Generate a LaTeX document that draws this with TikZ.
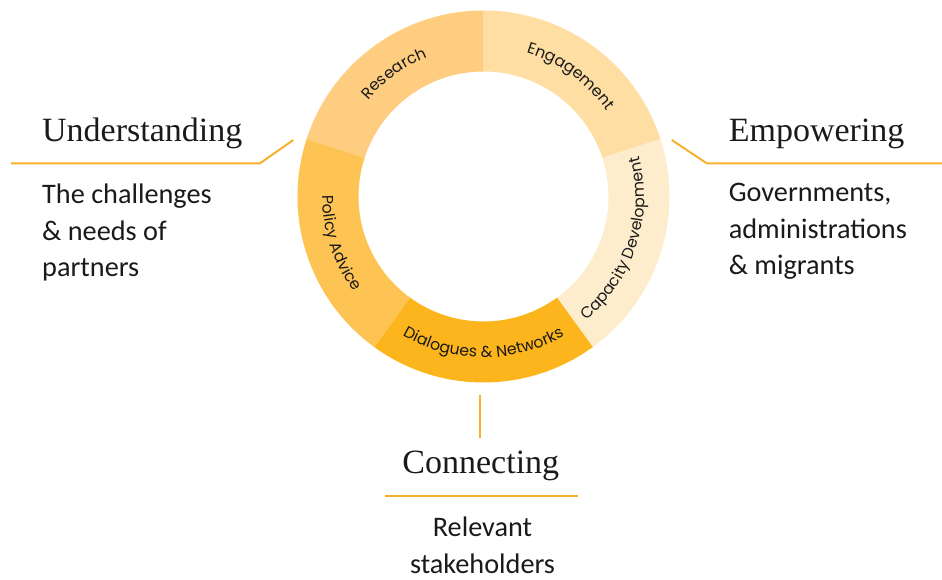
\documentclass[tikz,border=0pt]{standalone}
\usepackage{fontspec}
\setmainfont{Carlito}
\newfontfamily\headfont{Liberation Serif}
\newfontfamily\ringfont{Poppins}
\usetikzlibrary{decorations.text}

\definecolor{segResearch}{HTML}{FECD80}
\definecolor{segEngage}{HTML}{FEDEA2}
\definecolor{segCapacity}{HTML}{FEEDCC}
\definecolor{segDialogue}{HTML}{FCB51C}
\definecolor{segPolicy}{HTML}{FDC453}
\definecolor{accent}{HTML}{F7B02E}
\definecolor{ink}{HTML}{1A1A1A}

\newcommand\ringtxt{\ringfont\fontsize{11.8}{13}\selectfont\color{ink}}

\tikzset{every picture/.style={line width=0.75pt}}
\tikzset{
  heading/.style={font=\headfont\fontsize{25.5}{30}\selectfont, inner sep=0pt, text=ink},
  bodytext/.style={font=\fontsize{21.2}{27.4}\selectfont, inner sep=0pt, align=left, text=ink},
  leader/.style={draw=accent, line width=1.5pt},
  ringtext/.style={decorate, decoration={text along path, text align=center, text={|\ringtxt|#1}}}
}

\begin{document}
\begin{tikzpicture}[x=0.75pt,y=0.75pt]
\useasboundingbox (0,0) rectangle (942,579);
\coordinate (c) at (483.5,382.5);

%Shape: Arc [Research]
\fill[segResearch, shift={(c)}] (162:186) arc[start angle=162,end angle=90,radius=186] -- (90:125) arc[start angle=90,end angle=162,radius=125] -- cycle;
%Shape: Arc [Engagement]
\fill[segEngage, shift={(c)}] (90:186) arc[start angle=90,end angle=18,radius=186] -- (18:125) arc[start angle=18,end angle=90,radius=125] -- cycle;
%Shape: Arc [Capacity Development]
\fill[segCapacity, shift={(c)}] (18:186) arc[start angle=18,end angle=-54,radius=186] -- (-54:125) arc[start angle=-54,end angle=18,radius=125] -- cycle;
%Shape: Arc [Dialogues]
\fill[segDialogue, shift={(c)}] (-54:186) arc[start angle=-54,end angle=-126,radius=186] -- (-126:125) arc[start angle=-126,end angle=-54,radius=125] -- cycle;
%Shape: Arc [Policy Advice]
\fill[segPolicy, shift={(c)}] (-126:186) arc[start angle=-126,end angle=-198,radius=186] -- (-198:125) arc[start angle=-198,end angle=-126,radius=125] -- cycle;

% Ring labels
\path[ringtext=Research, shift={(c)}] (162:150) arc[start angle=162,end angle=90,radius=150];
\path[ringtext=Engagement, shift={(c)}] (90:150) arc[start angle=90,end angle=18,radius=150];
\path[ringtext=Capacity Development, shift={(c)}] (-54:161) arc[start angle=-54,end angle=18,radius=161];
\path[ringtext=Dialogues {\&} Networks, shift={(c)}] (-126:161) arc[start angle=-126,end angle=-54,radius=161];
\path[ringtext=Policy Advice, shift={(c)}] (162:161) arc[start angle=162,end angle=234,radius=161];

%Straight Lines [Understanding]
\coordinate (ul0) at (11,415.7);
\coordinate (ul1) at (260,415.7);
\coordinate (ul2) at (293.3,439);
\draw[leader] (ul0) -- (ul1) -- (ul2);
%Straight Lines [Empowering]
\coordinate (el0) at (671.7,439);
\coordinate (el1) at (706.7,415.7);
\coordinate (el2) at (942,415.7);
\draw[leader] (el0) -- (el1) -- (el2);
%Straight Lines [Connecting]
\coordinate (cv0) at (480,184);
\coordinate (cv1) at (480,140.7);
\draw[leader] (cv0) -- (cv1);
\coordinate (ch0) at (385,83);
\coordinate (ch1) at (578.3,83);
\draw[leader] (ch0) -- (ch1);

% Text Node
\node (under) [heading, anchor=base west] at (41.7,437.3) {Understanding};
% Text Node (base = last line)
\node (underbody) [bodytext, anchor=base west] at (41.7,302) {The challenges\\\& needs of\\partners};
% Text Node
\node (empower) [heading, anchor=base west] at (728.3,437.3) {Empowering};
% Text Node (base = last line)
\node (empowerbody) [bodytext, anchor=base west] at (728.3,304) {Governments,\\administrations\\\& migrants};
% Text Node
\node (connect) [heading, anchor=base] at (480.8,105.7) {Connecting};
% Text Node (base = last line)
\node (connectbody) [bodytext, align=center, anchor=base] at (482.5,6) {Relevant\\stakeholders};

\end{tikzpicture}
\end{document}
